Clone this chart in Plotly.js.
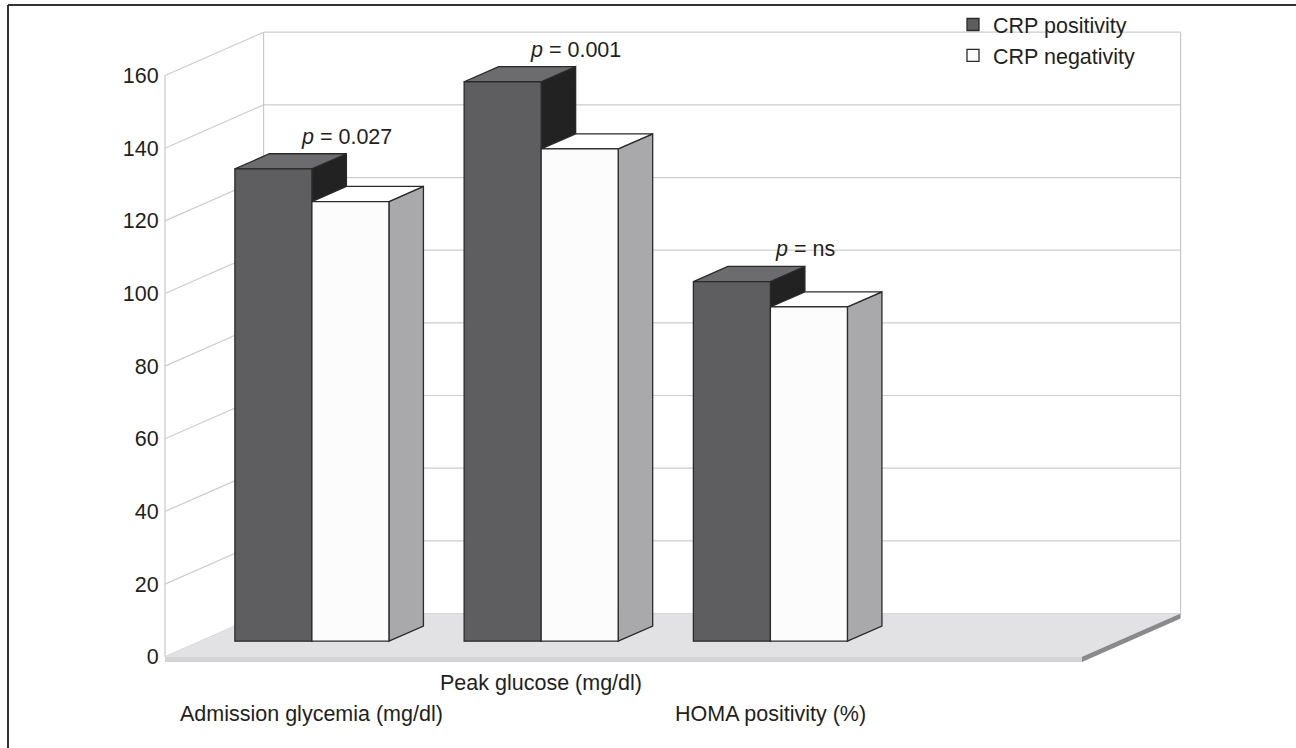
<!DOCTYPE html>
<html><head><meta charset="utf-8">
<script src="https://cdn.plot.ly/plotly-3.0.1.min.js"></script>
<style>html,body{margin:0;padding:0;background:#fff}#chart{width:1296px;height:748px}</style>
</head><body><div id="chart"></div>
<script>
// ---- data ----
const categories = ["Admission glycemia (mg/dl)", "Peak glucose (mg/dl)", "HOMA positivity (%)"];
const seriesNames = ["CRP positivity", "CRP negativity"];
const crpPositivity = [130, 154, 99];
const crpNegativity = [121, 135.5, 92];
const pValues = ["0.027", "0.001", "ns"];
const yTicks = [0, 20, 40, 60, 80, 100, 120, 140, 160];

// ---- layout geometry (pseudo-3D projection) ----
const W = 1296, H = 748, M = {l: 150, r: 100, t: 2, b: 70};
const PW = W - M.l - M.r, PH = H - M.t - M.b;
const PXU = 229.25, PYU = 3.633;          // px per x unit, px per y unit
const XA = -15 / PXU, XB = XA + PW / PXU;
const Y0PX = 656.8;
const YA = -((H - M.b) - Y0PX) / PYU, YB = YA + PH / PYU;
const NSLOT = 4;
const GAP = 0.15, BW = 0.336, F1 = 0.36, F2 = 0.71, DX = 0.43, DY = 11.92, T = 1.4;
const YMAX = yTicks[yTicks.length - 1];
const SX = (F2 - F1) * DX, SY = (F2 - F1) * DY;
const BASE = F1 * DY;

const FONT = "Liberation Sans, Arial, Helvetica, sans-serif";
const FS = 21.5;
const TXT = "#231f20";
const EDGE = "#2a2a2a";
const colors = {
  dark: {front: "#5e5e60", top: "#6c6c6e", side: "#222222"},
  light: {front: "#fcfcfc", top: "#ffffff", side: "#a9a9ac"}
};

const px2paperX = px => (px - M.l) / PW;
const px2paperY = py => (H - M.b - py) / PH;
const faceLeft = (i, s) => i + GAP + F1 * DX + s * BW;

function poly(pts) {
  return "M" + pts.map(p => p[0] + "," + p[1]).join(" L") + " Z";
}

const shapes = [];
// back wall
shapes.push({type: "path", xref: "x", yref: "y", layer: "below",
  path: poly([[DX, DY], [NSLOT + DX, DY], [NSLOT + DX, YMAX + DY], [DX, YMAX + DY]]),
  fillcolor: "#ffffff", line: {width: 0}});
yTicks.forEach(v => {
  shapes.push({type: "line", xref: "x", yref: "y", layer: "below",
    x0: DX, x1: NSLOT + DX, y0: v + DY, y1: v + DY, line: {color: "#cdcdcd", width: 1.2}});
  shapes.push({type: "line", xref: "x", yref: "y", layer: "below",
    x0: 0, x1: DX, y0: v, y1: v + DY, line: {color: "#cdcdcd", width: 1.2}});
});
[0, DX, NSLOT + DX].forEach((xv, k) => {
  const y0 = k === 0 ? 0 : DY, y1 = k === 0 ? YMAX : YMAX + DY;
  shapes.push({type: "line", xref: "x", yref: "y", layer: "below",
    x0: xv, x1: xv, y0: y0, y1: y1, line: {color: "#c8c8c8", width: 1.2}});
});
// floor slab
shapes.push({type: "path", xref: "x", yref: "y", layer: "below",
  path: poly([[0, 0], [NSLOT, 0], [NSLOT + DX, DY], [DX, DY]]),
  fillcolor: "#e2e2e4", line: {width: 0}});
shapes.push({type: "path", xref: "x", yref: "y", layer: "below",
  path: poly([[0, 0], [NSLOT, 0], [NSLOT, -T], [0, -T]]),
  fillcolor: "#d4d4d6", line: {width: 0}});
shapes.push({type: "path", xref: "x", yref: "y", layer: "below",
  path: poly([[NSLOT, 0], [NSLOT + DX, DY], [NSLOT + DX, DY - T], [NSLOT, -T]]),
  fillcolor: "#8a8a8c", line: {width: 0}});

// bar top and side faces
const seriesVals = [crpPositivity, crpNegativity];
const seriesCols = [colors.dark, colors.light];
categories.forEach((c, i) => {
  seriesVals.forEach((vals, s) => {
    const l = faceLeft(i, s), r = l + BW, top = BASE + vals[i];
    shapes.push({type: "path", xref: "x", yref: "y", layer: "below",
      path: poly([[r, BASE], [r + SX, BASE + SY], [r + SX, top + SY], [r, top]]),
      fillcolor: seriesCols[s].side, line: {color: EDGE, width: 1.3}});
    shapes.push({type: "path", xref: "x", yref: "y", layer: "below",
      path: poly([[l, top], [r, top], [r + SX, top + SY], [l + SX, top + SY]]),
      fillcolor: seriesCols[s].top, line: {color: EDGE, width: 1.3}});
  });
});

// outer frame (left and top)
shapes.push({type: "line", xref: "paper", yref: "paper",
  x0: px2paperX(8), x1: px2paperX(8), y0: px2paperY(5), y1: px2paperY(H + 5), line: {color: "#333", width: 2}});
shapes.push({type: "line", xref: "paper", yref: "paper",
  x0: px2paperX(8), x1: px2paperX(W + 5), y0: px2paperY(5), y1: px2paperY(5), line: {color: "#333", width: 2}});

const traces = seriesVals.map((vals, s) => ({
  type: "bar", name: seriesNames[s],
  x: categories.map((c, i) => faceLeft(i, s) + BW / 2),
  y: vals,
  base: categories.map(() => BASE),
  width: BW,
  marker: {color: seriesCols[s].front, line: {color: EDGE, width: 1.3}},
  hoverinfo: "skip"
}));

const annotations = [];
categories.forEach((c, i) => {
  const cx = faceLeft(i, 0) + BW;
  annotations.push({xref: "x", yref: "y", x: cx + SX, y: crpPositivity[i] + F2 * DY,
    xanchor: "center", yanchor: "bottom", yshift: 3, showarrow: false,
    text: "<i>p</i> = " + pValues[i], font: {family: FONT, size: FS, color: TXT}});
  annotations.push({xref: "x", yref: "paper", x: cx, y: px2paperY(i % 2 === 1 ? 683 : 714),
    xanchor: "center", yanchor: "middle", showarrow: false,
    text: c, font: {family: FONT, size: FS, color: TXT}});
});

const layout = {
  width: W, height: H, margin: M,
  paper_bgcolor: "#ffffff", plot_bgcolor: "rgba(0,0,0,0)",
  barmode: "overlay", bargap: 0,
  font: {family: FONT, size: FS, color: TXT},
  xaxis: {range: [XA, XB], showgrid: false, zeroline: false, showline: false,
    showticklabels: false, ticks: "", fixedrange: true},
  yaxis: {range: [YA, YB], anchor: "free", position: (0 - XA) / (XB - XA),
    tickvals: yTicks, ticktext: yTicks.map(String),
    showgrid: false, zeroline: false, showline: false,
    ticks: "outside", ticklen: 2, tickcolor: "rgba(0,0,0,0)",
    tickfont: {family: FONT, size: FS, color: TXT}, fixedrange: true},
  showlegend: true,
  legend: {x: px2paperX(953), y: px2paperY(4), xanchor: "left", yanchor: "top",
    bgcolor: "rgba(0,0,0,0)", font: {family: FONT, size: FS, color: TXT}, traceorder: "normal"},
  shapes: shapes,
  annotations: annotations
};

Plotly.newPlot("chart", traces, layout, {staticPlot: true, displayModeBar: false});
</script>
</body></html>
